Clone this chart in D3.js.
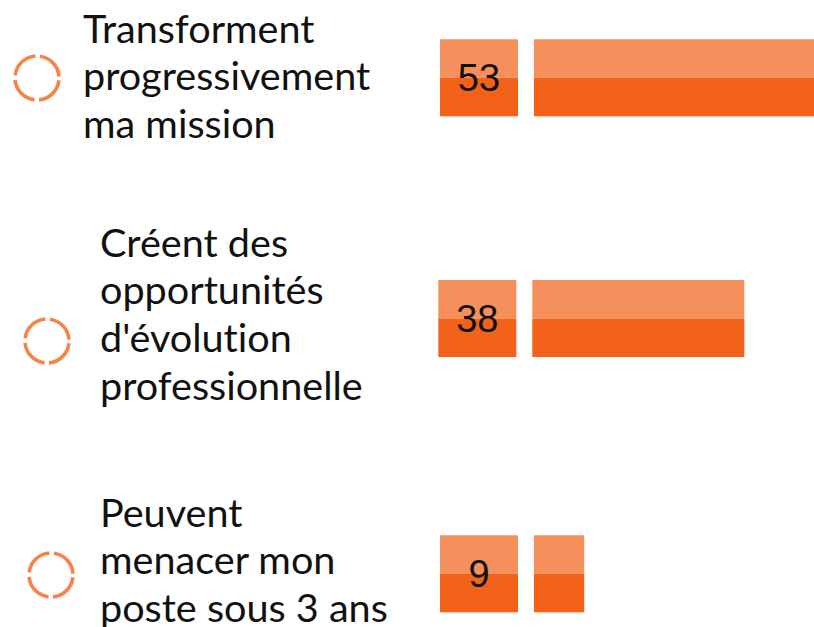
<!DOCTYPE html>
<html>
<head>
<meta charset="utf-8">
<script src="https://cdn.jsdelivr.net/npm/d3@7"></script>
<style>
  html, body { margin: 0; padding: 0; background: #fff; overflow: hidden; }
  .label { font-family: Lato, sans-serif; font-size: 39.6px; fill: #111; font-variant-ligatures: none; }
  .value { font-family: "Liberation Sans", Arial, sans-serif; font-size: 38px; fill: #111; }
</style>
</head>
<body>
<div class="chart"></div>
<script>
const categories = ["transforme", "opportunites", "menace"]
const labelLines = [
  ["Transforment", "progressivement", "ma mission"],
  ["Créent des", "opportunités", "d'évolution", "professionnelle"],
  ["Peuvent", "menacer mon", "poste sous 3 ans"]
]
const values = [53, 38, 9]

const colors = {
  light: "#F5905C",
  dark: "#F26219",
  ring: "#F5834A",
  text: "#111111"
}

const dimensions = { width: 814, height: 627 }

// the rows of this infographic are not evenly spaced, so each layout piece gets its own ordinal scale
const rowY = d3.scaleOrdinal().domain(categories).range([39.3, 280, 535.3])
const boxX = d3.scaleOrdinal().domain(categories).range([440, 438.3, 440])
const ringX = d3.scaleOrdinal().domain(categories).range([37, 47, 51])
const ringY = d3.scaleOrdinal().domain(categories).range([78, 341, 575])
const textX = d3.scaleOrdinal().domain(categories).range([83, 100, 100])
const textY = d3.scaleOrdinal().domain(categories).range([42.5, 256.7, 526.7])

const boxWidth = 78
const barHeight = 77
const barGap = 16
const lineHeight = 47.6
const ringRadius = 22

const xScale = d3.scaleLinear()
  .domain([0, 100])
  .range([0, 558])

const rows = categories.map((c, i) => ({ key: c, lines: labelLines[i], value: values[i] }))

const svg = d3.select(".chart")
  .append("svg")
    .attr("width", dimensions.width)
    .attr("height", dimensions.height)

const row = svg.selectAll(".row")
  .data(rows)
  .join("g")
    .attr("class", "row")

// dashed ring, gaps at 12/3/6/9 o'clock
const circ = 2 * Math.PI * ringRadius
const gap = 4.6
const dash = circ / 4 - gap
row.append("circle")
    .attr("cx", d => ringX(d.key))
    .attr("cy", d => ringY(d.key))
    .attr("r", ringRadius)
    .attr("fill", "none")
    .attr("stroke", colors.ring)
    .attr("stroke-width", 3.6)
    .attr("stroke-dasharray", `${dash} ${gap}`)
    .attr("stroke-dashoffset", dash + gap / 2)

row.append("text")
    .attr("class", "label")
    .attr("x", d => textX(d.key))
    .attr("y", d => textY(d.key))
  .selectAll("tspan")
  .data(d => d.lines)
  .join("tspan")
    .attr("x", function() { return this.parentNode.getAttribute("x") })
    .attr("dy", (d, i) => i === 0 ? 0 : lineHeight)
    .text(d => d)

// value box + bar, each split into light top and dark bottom
const halves = [
  { part: "top", color: colors.light, offset: 0 },
  { part: "bottom", color: colors.dark, offset: barHeight / 2 }
]

row.selectAll(".box")
  .data(d => halves.map(h => ({ ...h, d })))
  .join("rect")
    .attr("class", "box")
    .attr("x", h => boxX(h.d.key))
    .attr("y", h => rowY(h.d.key) + h.offset)
    .attr("width", boxWidth)
    .attr("height", barHeight / 2)
    .attr("fill", h => h.color)

row.selectAll(".bar")
  .data(d => halves.map(h => ({ ...h, d })))
  .join("rect")
    .attr("class", "bar")
    .attr("x", h => boxX(h.d.key) + boxWidth + barGap)
    .attr("y", h => rowY(h.d.key) + h.offset)
    .attr("width", h => xScale(h.d.value))
    .attr("height", barHeight / 2)
    .attr("fill", h => h.color)

row.append("text")
    .attr("class", "value")
    .attr("x", d => boxX(d.key) + boxWidth / 2)
    .attr("y", d => rowY(d.key) + barHeight / 2)
    .attr("dy", "0.36em")
    .attr("text-anchor", "middle")
    .text(d => d.value)
</script>
</body>
</html>
